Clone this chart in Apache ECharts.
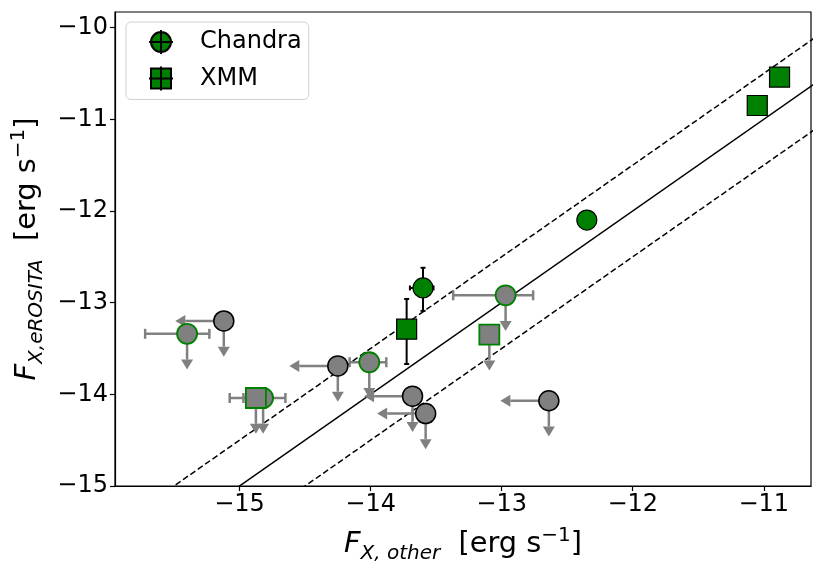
<!DOCTYPE html>
<html>
<head>
<meta charset="utf-8">
<script src="https://cdn.jsdelivr.net/npm/echarts@6.0.0/dist/echarts.min.js"></script>
<style>
  html, body { margin: 0; padding: 0; background: #fff; }
  #main { width: 822px; height: 573px; }
</style>
</head>
<body>
<div id="main"></div>
<script>
// detections (green)
var chandraX = [-12.35, -13.60];
var chandraY = [-12.10, -12.84];
var chandraXErrLo = [0.03, 0.10];
var chandraXErrHi = [0.03, 0.08];
var chandraYErrLo = [0.03, 0.25];
var chandraYErrHi = [0.03, 0.22];

var xmmX = [-13.725, -11.05, -10.88];
var xmmY = [-13.29, -10.85, -10.54];
var xmmXErrLo = [0.02, 0.03, 0.03];
var xmmXErrHi = [0.02, 0.03, 0.03];
var xmmYErrLo = [0.38, 0.03, 0.03];
var xmmYErrHi = [0.33, 0.03, 0.03];

// upper limits on both fluxes (grey, black edge)
var limBothX = [-15.12, -14.25, -13.68, -13.58, -12.64];
var limBothY = [-13.20, -13.69, -14.02, -14.21, -14.07];

// Chandra measured, eROSITA upper limit (grey, green edge)
var limChandraX = [-15.40, -14.01, -14.82, -12.97];
var limChandraY = [-13.34, -13.65, -14.04, -12.92];
var limChandraXErrLo = [0.32, 0.15, 0.15, 0.40];
var limChandraXErrHi = [0.17, 0.13, 0.17, 0.21];

// XMM measured, eROSITA upper limit
var limXmmX = [-14.875, -13.094];
var limXmmY = [-14.04, -13.35];
var limXmmXErrLo = [0.20, 0.02];
var limXmmXErrHi = [0.10, 0.02];

// 1:1 line and +-0.5 dex
var lineX = [-16.5, -10];
var lineOffsets = [0, 0.5, -0.5];

var xTicks = [-15, -14, -13, -12, -11];
var yTicks = [-15, -14, -13, -12, -11, -10];

var FONT = 'DejaVu Sans';
var GREEN = '#008000';
var GREY = '#808080';
var ARROW_X = 0.37;
var ARROW_Y = 0.39;
var HEAD_L = 10;
var HEAD_W = 6;

// legend handles: marker with its error cross
var ICON_CIRCLE = 'path://M2,12 A10,10 0 1,0 22,12 A10,10 0 1,0 2,12 Z M0,12 L24,12 M12,0 L12,24';
var ICON_SQUARE = 'path://M2,2 L22,2 L22,22 L2,22 Z M0,12 L24,12 M12,0 L12,24';

function minus(v) { return String(v).replace('-', '\u2212'); }

function rows(x, y, xlo, xhi, ylo, yhi) {
  return x.map(function (v, i) {
    return [v, y[i], xlo ? xlo[i] : 0, xhi ? xhi[i] : 0, ylo ? ylo[i] : 0, yhi ? yhi[i] : 0];
  });
}

function errBars(color, lw, cap) {
  return function (params, api) {
    var x = api.value(0), y = api.value(1);
    var l = api.coord([x - api.value(2), y]);
    var r = api.coord([x + api.value(3), y]);
    var b = api.coord([x, y - api.value(4)]);
    var t = api.coord([x, y + api.value(5)]);
    var st = { stroke: color, lineWidth: lw };
    var kids = [];
    function seg(x1, y1, x2, y2) {
      kids.push({ type: 'line', shape: { x1: x1, y1: y1, x2: x2, y2: y2 }, style: st });
    }
    if (api.value(2) || api.value(3)) {
      seg(l[0], l[1], r[0], r[1]);
      if (api.value(2)) seg(l[0], l[1] - cap, l[0], l[1] + cap);
      if (api.value(3)) seg(r[0], r[1] - cap, r[0], r[1] + cap);
    }
    if (api.value(4) || api.value(5)) {
      seg(b[0], b[1], t[0], t[1]);
      if (api.value(4)) seg(b[0] - cap, b[1], b[0] + cap, b[1]);
      if (api.value(5)) seg(t[0] - cap, t[1], t[0] + cap, t[1]);
    }
    return { type: 'group', children: kids };
  };
}

function arrows(left, down) {
  return function (params, api) {
    var x = api.value(0), y = api.value(1);
    var p = api.coord([x, y]);
    var st = { stroke: GREY, lineWidth: 2.5 };
    var kids = [];
    if (left) {
      var q = api.coord([x - ARROW_X, y]);
      kids.push({ type: 'line', shape: { x1: p[0], y1: p[1], x2: q[0] + HEAD_L, y2: q[1] }, style: st });
      kids.push({ type: 'polygon', shape: { points: [[q[0], q[1]], [q[0] + HEAD_L, q[1] - HEAD_W], [q[0] + HEAD_L, q[1] + HEAD_W]] }, style: { fill: GREY } });
    }
    if (down) {
      var d = api.coord([x, y - ARROW_Y]);
      kids.push({ type: 'line', shape: { x1: p[0], y1: p[1], x2: d[0], y2: d[1] - HEAD_L }, style: st });
      kids.push({ type: 'polygon', shape: { points: [[d[0], d[1]], [d[0] - HEAD_W, d[1] - HEAD_L], [d[0] + HEAD_W, d[1] - HEAD_L]] }, style: { fill: GREY } });
    }
    return { type: 'group', children: kids };
  };
}

function zip(xs, ys) { return xs.map(function (v, i) { return [v, ys[i]]; }); }

var labelRich = {
  it: { fontFamily: FONT, fontStyle: 'italic', fontSize: 28.8, lineHeight: 38, verticalAlign: 'middle', color: '#000' },
  sub: { fontFamily: FONT, fontStyle: 'italic', fontSize: 20, lineHeight: 20, verticalAlign: 'bottom', color: '#000' },
  rm: { fontFamily: FONT, fontSize: 28.8, lineHeight: 38, verticalAlign: 'middle', color: '#000' },
  sup: { fontFamily: FONT, fontSize: 20, lineHeight: 20, verticalAlign: 'top', color: '#000' }
};

var series = [];

// model lines
lineOffsets.forEach(function (off, i) {
  series.push({
    type: 'line',
    silent: true,
    z: 1,
    showSymbol: false,
    data: lineX.map(function (x) { return [x, x + off]; }),
    lineStyle: { color: '#000', width: 1.5, type: i === 0 ? 'solid' : [6, 3] }
  });
});

var customBase = { type: 'custom', silent: true, z: 2, encode: { x: 0, y: 1 } };

function custom(render, data) {
  return Object.assign({}, customBase, { renderItem: render, data: data });
}

function scatter(name, symbol, data, fill, edge, bw) {
  return {
    type: 'scatter', name: name, silent: true, z: 3,
    symbol: symbol, symbolSize: 20, data: data,
    itemStyle: { color: fill, borderColor: edge, borderWidth: bw, opacity: 1 }
  };
}

// grey limits
series.push(custom(arrows(true, true), zip(limBothX, limBothY)));
series.push(scatter('limBoth', 'circle', zip(limBothX, limBothY), GREY, '#000', 1.5));

series.push(custom(errBars(GREY, 2.5, 5), rows(limChandraX, limChandraY, limChandraXErrLo, limChandraXErrHi)));
series.push(custom(arrows(false, true), zip(limChandraX, limChandraY)));
series.push(scatter('limChandra', 'circle', zip(limChandraX, limChandraY), GREY, GREEN, 1.8));

series.push(custom(errBars(GREY, 2.5, 5), rows(limXmmX, limXmmY, limXmmXErrLo, limXmmXErrHi)));
series.push(custom(arrows(false, true), zip(limXmmX, limXmmY)));
series.push(scatter('limXmm', 'rect', zip(limXmmX, limXmmY), GREY, GREEN, 1.8));

// detections
series.push(custom(errBars('#000', 2, 2.5), rows(chandraX, chandraY, chandraXErrLo, chandraXErrHi, chandraYErrLo, chandraYErrHi)));
series.push(scatter('Chandra', 'circle', zip(chandraX, chandraY), GREEN, '#000', 1.2));
series.push(custom(errBars('#000', 2, 2.5), rows(xmmX, xmmY, xmmXErrLo, xmmXErrHi, xmmYErrLo, xmmYErrHi)));
series.push(scatter('XMM', 'rect', zip(xmmX, xmmY), GREEN, '#000', 1.2));

var chart = echarts.init(document.getElementById('main'), null, { renderer: 'canvas' });

var option = {
  animation: false,
  backgroundColor: '#fff',
  grid: {
    left: 115, right: 11, top: 12, bottom: 87,
    show: true, borderColor: '#000', borderWidth: 1.2, backgroundColor: 'transparent'
  },
  legend: {
    data: [
      { name: 'Chandra', icon: ICON_CIRCLE },
      { name: 'XMM', icon: ICON_SQUARE }
    ],
    orient: 'vertical',
    left: 126, top: 22,
    padding: [7, 4, 8, 22],
    itemWidth: 24, itemHeight: 24, itemGap: 10.5,
    borderColor: '#d0d0d0', borderWidth: 1, borderRadius: 5,
    backgroundColor: 'rgba(255,255,255,0.8)',
    selectedMode: false,
    textStyle: { fontFamily: FONT, fontSize: 24, lineHeight: 24, color: '#000', padding: [0, 3, 0, 22] }
  },
  xAxis: {
    type: 'value',
    min: -15.95, max: -10.64,
    name: '{it|F}{sub|X, other}{rm|  [erg s}{sup|\u22121}{rm|]}',
    nameLocation: 'middle',
    nameGap: 40,
    nameTextStyle: { fontFamily: FONT, fontSize: 28.8, color: '#000', rich: labelRich },
    axisLine: { onZero: false, lineStyle: { color: '#000', width: 1.2 } },
    axisTick: { length: 5, lineStyle: { color: '#000', width: 1.2 }, customValues: xTicks },
    axisLabel: { customValues: xTicks, formatter: minus, fontFamily: FONT, fontSize: 24, color: '#000', margin: 7 },
    splitLine: { show: false }
  },
  yAxis: {
    type: 'value',
    min: -15, max: -9.83,
    name: '{it|F}{sub|X,eROSITA}{rm|  [erg s}{sup|\u22121}{rm|]}',
    nameLocation: 'middle',
    nameRotate: 90,
    nameGap: 66,
    nameTextStyle: { fontFamily: FONT, fontSize: 28.8, color: '#000', rich: labelRich },
    axisLine: { onZero: false, lineStyle: { color: '#000', width: 1.2 } },
    axisTick: { length: 5, lineStyle: { color: '#000', width: 1.2 }, customValues: yTicks },
    axisLabel: { customValues: yTicks, formatter: minus, fontFamily: FONT, fontSize: 24, color: '#000', margin: 7 },
    splitLine: { show: false }
  },
  series: series
};

chart.setOption(option);
</script>
</body>
</html>
